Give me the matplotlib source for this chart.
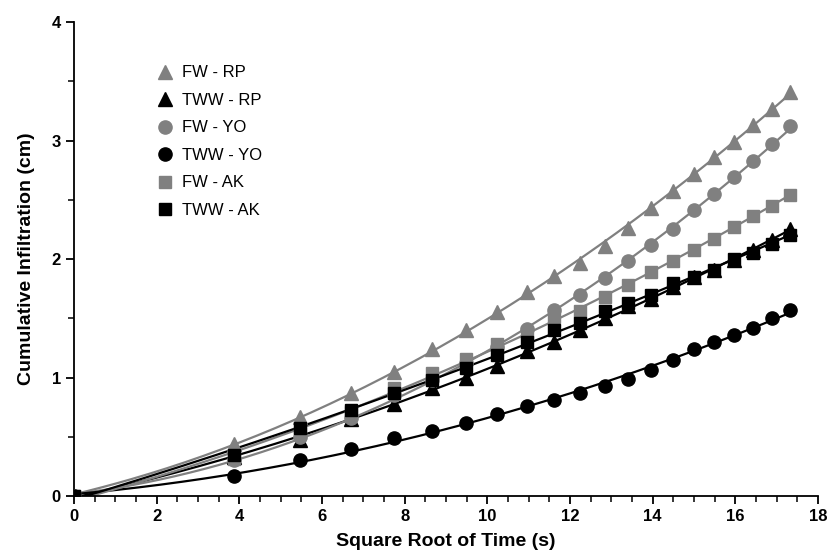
import numpy as np
import matplotlib.pyplot as plt

plt.rcParams['font.family'] = ['Liberation Sans', 'DejaVu Sans']

# square root of time (s): 0, 15, 30, ... 300 s
x = np.sqrt(np.array([0, 15, 30, 45, 60, 75, 90, 105, 120, 135, 150,
                      165, 180, 195, 210, 225, 240, 255, 270, 285, 300]))

fw_rp = [0.0, 0.44, 0.67, 0.87, 1.05, 1.24, 1.40, 1.55, 1.72, 1.86, 1.97,
         2.11, 2.26, 2.43, 2.57, 2.72, 2.86, 2.99, 3.13, 3.27, 3.41]
tww_rp = [0.0, 0.33, 0.47, 0.65, 0.78, 0.91, 1.00, 1.10, 1.22, 1.30, 1.40,
          1.50, 1.60, 1.66, 1.76, 1.85, 1.91, 1.99, 2.08, 2.16, 2.25]
fw_yo = [0.0, 0.30, 0.50, 0.66, 0.85, 0.98, 1.12, 1.26, 1.41, 1.57, 1.70,
         1.84, 1.98, 2.12, 2.25, 2.41, 2.55, 2.69, 2.83, 2.97, 3.12]
tww_yo = [0.0, 0.17, 0.30, 0.40, 0.49, 0.55, 0.62, 0.69, 0.76, 0.81, 0.87,
          0.93, 0.99, 1.06, 1.15, 1.24, 1.30, 1.36, 1.42, 1.50, 1.57]
fw_ak = [0.0, 0.31, 0.53, 0.71, 0.91, 1.04, 1.16, 1.28, 1.38, 1.51, 1.56,
         1.68, 1.78, 1.89, 1.98, 2.08, 2.17, 2.27, 2.36, 2.45, 2.54]
tww_ak = [0.0, 0.35, 0.57, 0.73, 0.87, 0.98, 1.08, 1.19, 1.30, 1.40, 1.46,
          1.56, 1.63, 1.70, 1.80, 1.85, 1.91, 2.00, 2.05, 2.13, 2.20]

series = [('FW - RP', fw_rp, '^', 'gray'),
          ('TWW - RP', tww_rp, '^', 'black'),
          ('FW - YO', fw_yo, 'o', 'gray'),
          ('TWW - YO', tww_yo, 'o', 'black'),
          ('FW - AK', fw_ak, 's', 'gray'),
          ('TWW - AK', tww_ak, 's', 'black')]

fig = plt.figure(figsize=(8.27, 5.57), dpi=100)
ax = fig.add_axes([0.0895, 0.1095, 0.8995, 0.851])

xf = np.linspace(0, x[-1], 200)
for name, y, m, c in series:
    # fitted curve (Philip type, quadratic in sqrt t)
    p = np.polyfit(x, y, 2)
    ax.plot(xf, np.polyval(p, xf), color=c, lw=1.6, zorder=2)
    ms = 8 if m == 's' else 9.5
    ax.plot(x, y, ls='none', marker=m, ms=ms, color=c, label=name, zorder=3)

ax.set_xlim(0, 18)
ax.set_ylim(0, 4)
ax.set_xticks(np.arange(0, 19, 2))
ax.set_xticks(np.arange(0, 18.01, 0.5), minor=True)
ax.set_yticks([0, 1, 2, 3, 4])
ax.set_yticks(np.arange(0, 4.01, 0.5), minor=True)
for s in ['top', 'right']:
    ax.spines[s].set_visible(False)
ax.spines['left'].set_linewidth(1.3)
ax.spines['bottom'].set_linewidth(1.3)
ax.tick_params(which='major', length=6, width=1.3, labelsize=12, direction='out')
ax.tick_params(which='minor', length=4, width=1.1, direction='out')
for lab in ax.get_xticklabels() + ax.get_yticklabels():
    lab.set_fontweight('bold')

ax.set_xlabel('Square Root of Time (s)', fontsize=14, fontweight='bold', labelpad=6)
ax.set_ylabel('Cumulative Infiltration (cm)', fontsize=14, fontweight='bold', labelpad=12)

ax.legend(loc='upper left', bbox_to_anchor=(0.085, 0.94), frameon=False,
          fontsize=12, handletextpad=0.3, labelspacing=0.75, handlelength=1.5)

fig.savefig('out.png', dpi=100)
